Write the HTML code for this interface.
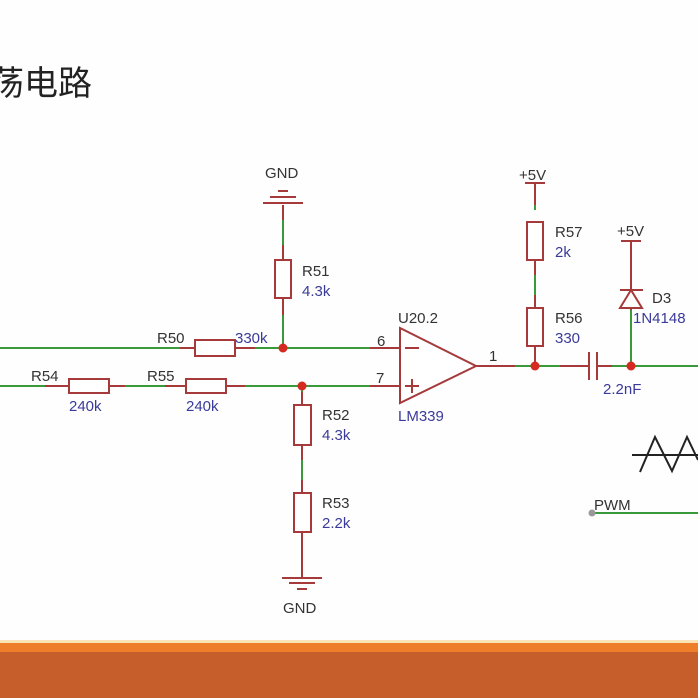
<!DOCTYPE html>
<html><head><meta charset="utf-8"><style>
html,body{margin:0;padding:0;background:#fff;width:698px;height:698px;overflow:hidden}
</style></head><body>
<svg width="698" height="698" xmlns="http://www.w3.org/2000/svg" font-family="Liberation Sans, sans-serif">
<rect width="698" height="698" fill="#fefefe"/>
<text x="-10" y="95" font-size="34" fill="#222" font-family="Liberation Sans, Noto Sans CJK SC, sans-serif">荡电路</text>
<rect x="0" y="643" width="698" height="10" fill="#ee7d2a"/>
<rect x="0" y="652" width="698" height="46" fill="#c65e2c"/>
<rect x="0" y="640" width="698" height="3" fill="#fbe3b8"/>
<g stroke="#3a9a3a" stroke-width="2" fill="none">
<line x1="0" y1="348" x2="195" y2="348"/>
<line x1="245" y1="348" x2="370" y2="348"/>
<line x1="0" y1="386" x2="58" y2="386"/>
<line x1="125" y1="386" x2="175" y2="386"/>
<line x1="240" y1="386" x2="370" y2="386"/>
<line x1="283" y1="205" x2="283" y2="245"/>
<line x1="283" y1="310" x2="283" y2="348"/>
<line x1="302" y1="386" x2="302" y2="395"/>
<line x1="302" y1="455" x2="302" y2="485"/>
<line x1="302" y1="540" x2="302" y2="565"/>
<line x1="490" y1="366" x2="585" y2="366"/>
<line x1="535" y1="200" x2="535" y2="210"/>
<line x1="535" y1="270" x2="535" y2="300"/>
<line x1="600" y1="366" x2="698" y2="366"/>
<line x1="631" y1="310" x2="631" y2="366"/>
<line x1="592" y1="513" x2="698" y2="513"/>
</g>
<g stroke="#a63a3a" stroke-width="2" fill="#fff">
<line x1="180" y1="348" x2="255" y2="348"/>
<rect x="195" y="340" width="40" height="16"/>
<line x1="45" y1="386" x2="125" y2="386"/>
<rect x="69" y="379" width="40" height="14"/>
<line x1="165" y1="386" x2="245" y2="386"/>
<rect x="186" y="379" width="40" height="14"/>
<line x1="283" y1="205" x2="283" y2="220"/>
<line x1="283" y1="245" x2="283" y2="315"/>
<rect x="275" y="260" width="16" height="38"/>
<line x1="302" y1="392" x2="302" y2="460"/>
<rect x="294" y="405" width="17" height="40"/>
<line x1="302" y1="480" x2="302" y2="578"/>
<rect x="294" y="493" width="17" height="39"/>
<line x1="263" y1="203" x2="303" y2="203"/><line x1="270" y1="197" x2="296" y2="197"/><line x1="278" y1="191" x2="288" y2="191"/>
<line x1="282" y1="578" x2="322" y2="578"/><line x1="289" y1="583" x2="315" y2="583"/><line x1="297" y1="589" x2="307" y2="589"/>
<line x1="370" y1="348" x2="400" y2="348"/><line x1="370" y1="386" x2="400" y2="386"/>
<polygon points="400,328 400,403 476,366"/>
<line x1="476" y1="366" x2="515" y2="366"/>
<line x1="405" y1="348" x2="419" y2="348"/>
<line x1="405" y1="386" x2="419" y2="386"/><line x1="412" y1="379" x2="412" y2="393"/>
<line x1="525" y1="183" x2="545" y2="183"/>
<line x1="535" y1="183" x2="535" y2="205"/>
<rect x="527" y="222" width="16" height="38"/>
<line x1="535" y1="260" x2="535" y2="275"/>
<line x1="535" y1="295" x2="535" y2="366"/>
<rect x="527" y="308" width="16" height="38"/>
<line x1="560" y1="366" x2="589" y2="366"/>
<line x1="589" y1="352" x2="589" y2="380"/><line x1="597" y1="352" x2="597" y2="380"/>
<line x1="597" y1="366" x2="612" y2="366"/>
<line x1="621" y1="241" x2="641" y2="241"/>
<line x1="631" y1="241" x2="631" y2="310"/>
<line x1="620" y1="290" x2="643" y2="290"/>
<polygon points="631,290 620,308 642,308"/>
</g>
<g fill="#d42a20"><circle cx="283" cy="348" r="4.5"/><circle cx="302" cy="386" r="4.5"/><circle cx="535" cy="366" r="4.5"/><circle cx="631" cy="366" r="4.5"/></g>
<circle cx="592" cy="513" r="3.5" fill="#999"/>
<g stroke="#222" stroke-width="2" fill="none">
<line x1="632" y1="455" x2="698" y2="455"/>
<polyline points="640,472 655,437 672,471 687,437 698,460"/>
</g>
<g font-size="15" fill="#333">
<text x="265" y="178">GND</text><text x="283" y="613">GND</text>
<text x="302" y="276">R51</text><text x="157" y="343">R50</text>
<text x="31" y="381">R54</text><text x="147" y="381">R55</text>
<text x="322" y="420">R52</text><text x="322" y="508">R53</text>
<text x="398" y="323">U20.2</text><text x="377" y="346">6</text><text x="376" y="383">7</text>
<text x="489" y="361">1</text>
<text x="519" y="180">+5V</text><text x="617" y="236">+5V</text>
<text x="555" y="237">R57</text><text x="555" y="323">R56</text>
<text x="652" y="303">D3</text><text x="594" y="510">PWM</text>
</g>
<g font-size="15" fill="#3a3a9a">
<text x="302" y="296">4.3k</text><text x="235" y="343">330k</text>
<text x="69" y="411">240k</text><text x="186" y="411">240k</text>
<text x="322" y="440">4.3k</text><text x="322" y="528">2.2k</text>
<text x="398" y="421">LM339</text>
<text x="555" y="257">2k</text><text x="555" y="343">330</text>
<text x="603" y="394">2.2nF</text><text x="633" y="323">1N4148</text>
</g>
</svg>
</body></html>
